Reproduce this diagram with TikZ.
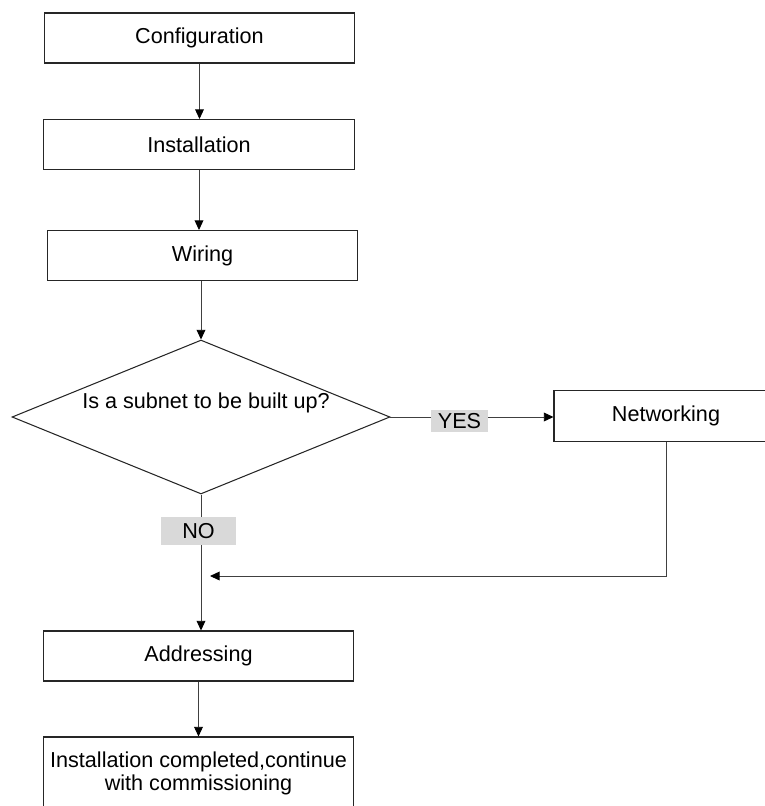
\documentclass[tikz,border=0pt]{standalone}
\usepackage{fontspec}
\setmainfont{Liberation Sans}
\usepackage{tikz}
\usetikzlibrary{shapes.geometric}
\usetikzlibrary{arrows.meta}
\definecolor{lblgray}{RGB}{217,217,217}
\tikzset{
    stepbox/.style={draw=black!85,line width=0.6pt,minimum width=6.22cm,minimum height=1cm,inner sep=0pt,align=center},
    tag/.style={fill=lblgray,inner sep=0pt},
    flow/.style={draw=black!75,line width=0.5pt},
    arr/.style={flow,-{Triangle[length=5.5pt,width=5pt,color=black]}}
}

\begin{document}
\begin{tikzpicture}[x=0.02cm,y=-0.02cm,font=\fontsize{12.3}{13.1}\selectfont]
\useasboundingbox (0,0) rectangle (765,806);
\foreach \x/\y/\p/\labeltext in {199.5/38/conf/{Configuration}, 199/144.5/inst/{Installation}, 202.5/255.5/wir/{Wiring}, 198.5/656/addr/{Addressing}}{
    \node[stepbox] (\p) at (\x,\y) {\labeltext};
}
\node[stepbox,minimum height=1.44cm] (done) at (198.5,773) {Installation completed,continue\\with commissioning};
\node[draw=black!85,line width=0.6pt,diamond,aspect=2.45,minimum width=7.56cm,minimum height=3.08cm,inner sep=0pt] (dec) at (201,417) {};
\node (dectext) at (206,403) {Is a subnet to be built up?};
\node[stepbox,minimum width=4.48cm,minimum height=1.02cm] (net) at (666,416) {Networking};
\node[tag,minimum width=1.14cm,minimum height=0.44cm] (yes) at (459.5,421) {YES};
\node[tag,minimum width=1.5cm,minimum height=0.56cm] (no) at (198.5,531) {NO};
\coordinate (join) at (210,576);
% main column
\draw[arr] (conf.south) -- (conf.south |- inst.north);
\draw[arr] (inst.south) -- (inst.south |- wir.north);
\draw[arr] (dec.north |- wir.south) -- (dec.north);
\draw[flow] (dec.south) -- (dec.south |- no.north);
\draw[arr] (dec.south |- no.south) -- (dec.south |- addr.north);
\draw[arr] (addr.south) -- (addr.south |- done.north);
% yes branch
\draw[flow] (dec.east) -- (dec.east -| yes.west);
\draw[arr] (dec.east -| yes.east) -- (dec.east -| net.west);
\draw[arr] (net.south) |- (join);
\end{tikzpicture}
\end{document}
